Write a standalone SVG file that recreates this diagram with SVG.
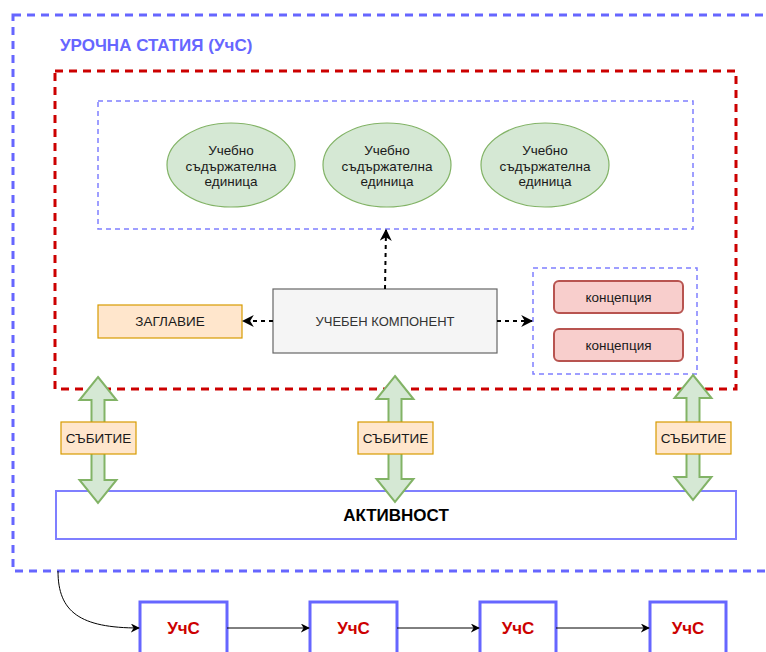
<svg xmlns="http://www.w3.org/2000/svg" width="766" height="652" viewBox="0 0 766 652">
  <style>
    text { font-family: "Liberation Sans", Arial, sans-serif; text-anchor: middle; dominant-baseline: central; }
    .frame-outer { fill: none; stroke: #6666ff; stroke-width: 3; stroke-dasharray: 8 6; }
    .frame-red { fill: none; stroke: #cc0000; stroke-width: 3; stroke-dasharray: 8 6; }
    .frame-thin { fill: none; stroke: #7f7fff; stroke-width: 1.5; stroke-dasharray: 5 4; }
    .unit { fill: #d5e8d4; stroke: #82b366; stroke-width: 1.2; }
    .unit-text { font-size: 13.5px; fill: #1a1a1a; }
    .label { fill: #ffe6cc; stroke: #d79b00; stroke-width: 1.2; }
    .label-text { font-size: 13.5px; fill: #1a1a1a; }
    .concept { fill: #f8cecc; stroke: #b85450; stroke-width: 2; }
    .block { fill: #d5e8d4; stroke: #82b366; stroke-width: 2; }
    .dash-link { fill: none; stroke: #000; stroke-width: 2; stroke-dasharray: 4 4; }
    .link { fill: none; stroke: #000; stroke-width: 1; }
    .lesson { fill: #fff; stroke: #6666ff; stroke-width: 3; }
    .lesson-text { font-size: 17px; font-weight: bold; fill: #cc0000; }
  </style>
  <defs>
    <marker id="head" viewBox="0 0 10 10" refX="9" refY="5" markerWidth="12" markerHeight="12" orient="auto" markerUnits="userSpaceOnUse">
      <path d="M0,0 L10,5 L0,10 L3,5 Z" fill="#000"/>
    </marker>
    <marker id="head-thin" viewBox="0 0 10 10" refX="9" refY="5" markerWidth="9" markerHeight="9" orient="auto" markerUnits="userSpaceOnUse">
      <path d="M0,0 L10,5 L0,10 L3,5 Z" fill="#000"/>
    </marker>
  </defs>
  <rect width="766" height="652" fill="#ffffff"/>

  <!-- lesson frame -->
  <g id="lesson-frame">
    <rect class="frame-outer" x="13" y="15" width="770" height="556"/>
    <text x="60" y="45" style="font-size:17px;font-weight:bold;fill:#6666ff;text-anchor:start">УРОЧНА СТАТИЯ (УчС)</text>
  </g>

  <!-- component frame -->
  <g id="component-frame">
    <rect class="frame-red" x="55" y="71" width="681" height="318"/>
  </g>

  <!-- content units -->
  <g id="units-frame">
    <rect class="frame-thin" x="98" y="101" width="595" height="128"/>
  </g>
  <g id="unit-1">
    <ellipse class="unit" cx="231" cy="165" rx="64" ry="42"/>
    <text class="unit-text" x="231" y="150">Учебно</text>
    <text class="unit-text" x="231" y="166">съдържателна</text>
    <text class="unit-text" x="231" y="181">единица</text>
  </g>
  <g id="unit-2">
    <ellipse class="unit" cx="387" cy="165" rx="64" ry="42"/>
    <text class="unit-text" x="387" y="150">Учебно</text>
    <text class="unit-text" x="387" y="166">съдържателна</text>
    <text class="unit-text" x="387" y="181">единица</text>
  </g>
  <g id="unit-3">
    <ellipse class="unit" cx="545" cy="165" rx="64" ry="42"/>
    <text class="unit-text" x="545" y="150">Учебно</text>
    <text class="unit-text" x="545" y="166">съдържателна</text>
    <text class="unit-text" x="545" y="181">единица</text>
  </g>

  <!-- learning component -->
  <g id="component">
    <rect x="273" y="289" width="224" height="64" fill="#f5f5f5" stroke="#666666" stroke-width="1.2"/>
    <text x="385" y="321" style="font-size:13px;fill:#333333">УЧЕБЕН КОМПОНЕНТ</text>
  </g>

  <g id="title">
    <rect class="label" x="98" y="305" width="144" height="33"/>
    <text class="label-text" x="170" y="321.5">ЗАГЛАВИЕ</text>
  </g>

  <!-- concepts -->
  <g id="concepts-frame">
    <rect class="frame-thin" x="533" y="268" width="164" height="106"/>
  </g>
  <g id="concept-1">
    <rect class="concept" x="554" y="281" width="129" height="32" rx="5"/>
    <text class="label-text" x="618.5" y="297">концепция</text>
  </g>
  <g id="concept-2">
    <rect class="concept" x="554" y="329" width="129" height="32" rx="5"/>
    <text class="label-text" x="618.5" y="345">концепция</text>
  </g>

  <!-- activity -->
  <g id="activity">
    <rect x="56" y="491" width="680" height="48" fill="#ffffff" stroke="#7f7fff" stroke-width="2"/>
    <text x="396" y="515" style="font-size:17px;font-weight:bold;fill:#000">АКТИВНОСТ</text>
  </g>

  <!-- lesson sequence -->
  <g id="lesson-1">
    <rect class="lesson" x="140" y="602" width="87" height="62"/>
    <text class="lesson-text" x="183.5" y="628">УчС</text>
  </g>
  <g id="lesson-2">
    <rect class="lesson" x="310" y="602" width="87" height="62"/>
    <text class="lesson-text" x="353.5" y="628">УчС</text>
  </g>
  <g id="lesson-3">
    <rect class="lesson" x="480" y="602" width="76" height="62"/>
    <text class="lesson-text" x="518" y="628">УчС</text>
  </g>
  <g id="lesson-4">
    <rect class="lesson" x="650" y="602" width="76" height="62"/>
    <text class="lesson-text" x="688" y="628">УчС</text>
  </g>

  <!-- connectors -->
  <g id="connectors">
    <path class="dash-link" d="M273,321 L243,321" marker-end="url(#head)"/>
    <path class="dash-link" d="M385,289 L386,230" marker-end="url(#head)"/>
    <path class="dash-link" d="M497,321 L532,321" marker-end="url(#head)"/>

    <path class="block" d="M98,377 L116.5,400 L104.5,400 L104.5,480 L116.5,480 L98,503 L79.5,480 L91.5,480 L91.5,400 L79.5,400 Z"/>
    <path class="block" d="M395,376 L413.5,399 L401.5,399 L401.5,479 L413.5,479 L395,502 L376.5,479 L388.5,479 L388.5,399 L376.5,399 Z"/>
    <path class="block" d="M693,375 L711.5,398 L699.5,398 L699.5,477 L711.5,477 L693,500 L674.5,477 L686.5,477 L686.5,398 L674.5,398 Z"/>

    <path class="link" d="M58,571 C58,612 80,628 139,628" marker-end="url(#head-thin)"/>
    <path class="link" d="M227,628 L309,628" marker-end="url(#head-thin)"/>
    <path class="link" d="M397,628 L479,628" marker-end="url(#head-thin)"/>
    <path class="link" d="M556,628 L649,628" marker-end="url(#head-thin)"/>
  </g>

  <!-- event labels -->
  <g id="event-1">
    <rect class="label" x="61" y="422" width="75" height="32"/>
    <text class="label-text" x="98.5" y="438">СЪБИТИЕ</text>
  </g>
  <g id="event-2">
    <rect class="label" x="358" y="422" width="75" height="32"/>
    <text class="label-text" x="395.5" y="438">СЪБИТИЕ</text>
  </g>
  <g id="event-3">
    <rect class="label" x="656" y="422" width="75" height="32"/>
    <text class="label-text" x="693.5" y="438">СЪБИТИЕ</text>
  </g>
</svg>
